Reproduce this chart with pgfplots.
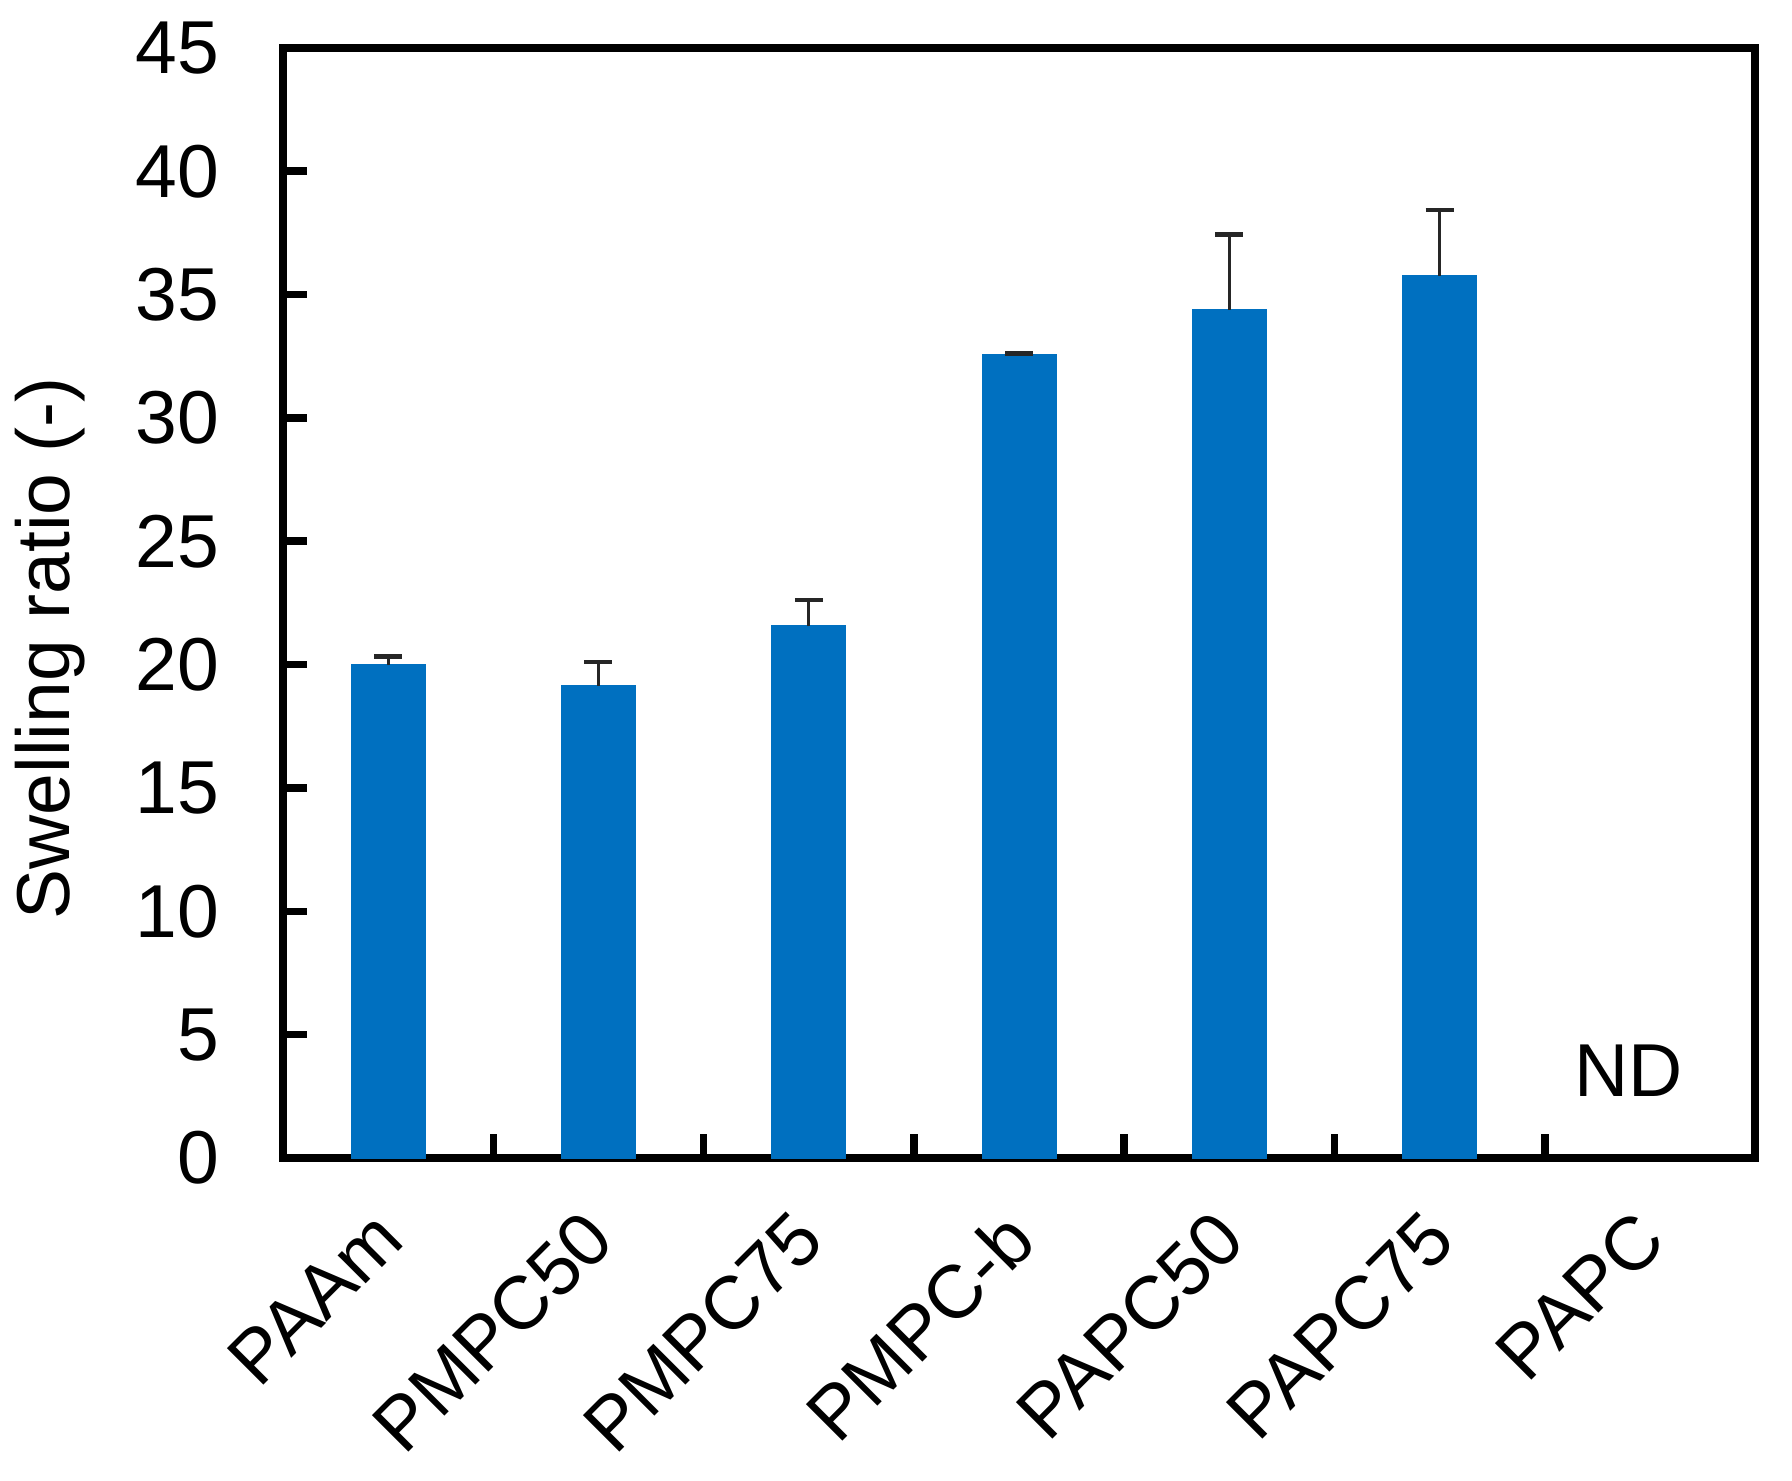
\documentclass[border=0pt]{standalone}
\usepackage{fontspec}
\setmainfont{Liberation Sans}
\usepackage{pgfplots}
\pgfplotsset{compat=1.18}
\definecolor{barblue}{HTML}{0070C0}
\begin{document}
\begin{tikzpicture}
\begin{axis}[
  scale only axis,
  width=294.4pt, height=222pt,
  xmin=-0.5, xmax=6.5,
  ymin=0, ymax=45,
  ytick={0,5,...,45},
  xtick={0.5,1.5,...,5.5},
  xticklabels={},
  extra x ticks={0,1,2,3,4,5,6},
  extra x tick labels={PAAm,PMPC50,PMPC75,PMPC-b,PAPC50,PAPC75,PAPC},
  extra x tick style={major tick length=0pt,
    tick label style={xshift=-3.7pt, yshift=-4.8pt, rotate=45, anchor=north east}},
  axis line style={line width=1.5pt},
  tick style={line width=1.5pt, black},
  major tick length=4.8pt,
  tick align=inside,
  xtick pos=bottom, ytick pos=left,
  font=\fontsize{15}{18}\selectfont,
  /pgf/number format/assume math mode=true,
  yticklabel style={xshift=-9.3pt},
  ylabel={Swelling ratio (-)},
  ylabel style={at={(axis description cs:-0.158,0.459)}, anchor=center},
  clip=false,
]
\addplot[ybar, bar width=14.6pt, fill=barblue, draw=barblue,
  error bars/.cd, y dir=plus, y explicit,
  error bar style={line width=0.6pt, black!85},
  error mark options={rotate=90, mark size=2.8pt, line width=0.9pt, black!85}]
  coordinates {
  (0,19.97) +- (0,0.35)
  (1,19.14) +- (0,0.97)
  (2,21.55) +- (0,1.07)
  (3,32.55) +- (0,0.07)
  (4,34.38) +- (0,3.05)
  (5,35.77) +- (0,2.65)
};
\node[font=\fontsize{15}{18}\selectfont] at (axis cs:5.9,3.55) {ND};
\coordinate (bl) at (rel axis cs:-0.1923,-0.291);
\coordinate (tr) at (rel axis cs:1.0251,1.0432);
\end{axis}
\pgfresetboundingbox
\path[use as bounding box] (bl) rectangle (tr);
\end{tikzpicture}
\end{document}
